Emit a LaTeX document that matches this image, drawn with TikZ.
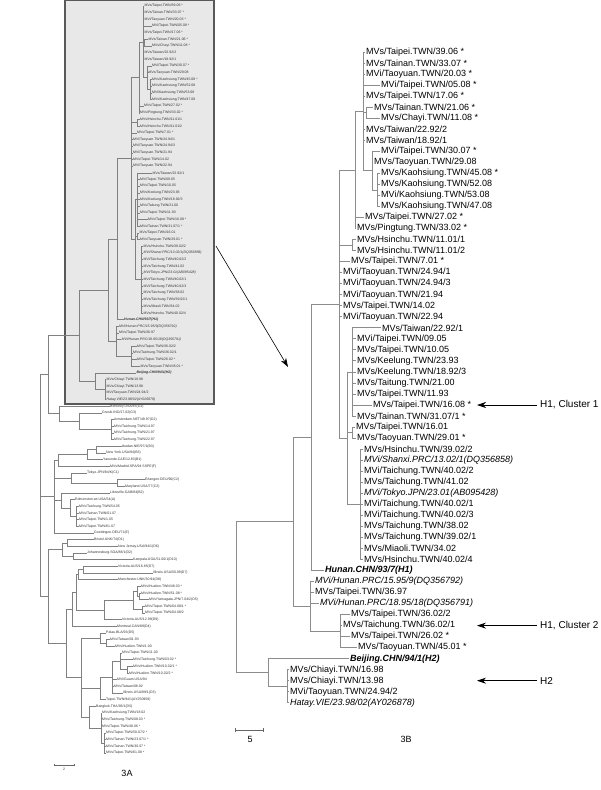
\documentclass[tikz,border=0pt]{standalone}
\usepackage{fontspec}
\setmainfont{Liberation Sans}
\usetikzlibrary{arrows.meta}

\newcommand{\hclade}[1]{%
  \coordinate (#1A3) at (377,189.9);
  \coordinate (#1A2) at (372,170.6);
  \coordinate (#1A1) at (366,112.7);
  \coordinate (#1A) at (363,111.3);
  \coordinate (#1B) at (355,169.9);
  \coordinate (#1H) at (352,245.0);
  \coordinate (#1E) at (352,371.9);
  \coordinate (#1J) at (352,432.6);
  \coordinate (#1L) at (360,504.3);
  \coordinate (#1M) at (347,438.1);
  \coordinate (#1C) at (339,304.0);
  \coordinate (#1G) at (311,437.2);
  \coordinate (#1N) at (340,631.1);
  \coordinate (#1K) at (310,606.3);
  \coordinate (#1F) at (293,521.8);
  \coordinate (#1P) at (287,686.3);
  \coordinate (#1Q) at (268,672.5);
  \coordinate (#1R) at (236,597.2);

  \node[leaf] (#1l1) at (365,52.0) {MVs/Taipei.TWN/39.06 *};
  \node[leaf] (#1l2) at (365,63.0) {MVs/Tainan.TWN/33.07 *};
  \node[leaf] (#1l3) at (365,74.1) {MVi/Taoyuan.TWN/20.03 *};
  \node[leaf] (#1l4) at (380,85.1) {MVi/Taipei.TWN/05.08 *};
  \node[leaf] (#1l5) at (365,96.1) {MVs/Taipei.TWN/17.06 *};
  \node[leaf] (#1l6) at (373,107.2) {MVs/Tainan.TWN/21.06 *};
  \node[leaf] (#1l7) at (380,118.2) {MVs/Chayi.TWN/11.08 *};
  \node[leaf] (#1l8) at (365,129.2) {MVs/Taiwan/22.92/2};
  \node[leaf] (#1l9) at (365,140.2) {MVs/Taiwan/18.92/1};
  \node[leaf] (#1l10) at (380,151.3) {MVi/Taipei.TWN/30.07 *};
  \node[leaf] (#1l11) at (373,162.3) {MVs/Taoyuan.TWN/29.08};
  \node[leaf] (#1l12) at (380,173.3) {MVs/Kaohsiung.TWN/45.08 *};
  \node[leaf] (#1l13) at (380,184.4) {MVs/Kaohsiung.TWN/52.08};
  \node[leaf] (#1l14) at (380,195.4) {MVi/Kaohsiung.TWN/53.08};
  \node[leaf] (#1l15) at (380,206.4) {MVs/Kaohsiung.TWN/47.08};
  \node[leaf] (#1l16) at (364,217.5) {MVs/Taipei.TWN/27.02 *};
  \node[leaf] (#1l17) at (356,228.5) {MVs/Pingtung.TWN/33.02 *};
  \node[leaf] (#1l18) at (356,239.5) {MVs/Hsinchu.TWN/11.01/1};
  \node[leaf] (#1l19) at (356,250.5) {MVs/Hsinchu.TWN/11.01/2};
  \node[leaf] (#1l20) at (350,261.6) {MVs/Taipei.TWN/7.01 *};
  \node[leaf] (#1l21) at (342,272.6) {MVi/Taoyuan.TWN/24.94/1};
  \node[leaf] (#1l22) at (342,283.6) {MVi/Taoyuan.TWN/24.94/3};
  \node[leaf] (#1l23) at (342,294.7) {MVi/Taoyuan.TWN/21.94};
  \node[leaf] (#1l24) at (342,305.7) {MVs/Taipei.TWN/14.02};
  \node[leaf] (#1l25) at (342,316.7) {MVi/Taoyuan.TWN/22.94};
  \node[leaf] (#1l26) at (381,327.8) {MVs/Taiwan/22.92/1};
  \node[leaf] (#1l27) at (356,338.8) {MVi/Taipei.TWN/09.05};
  \node[leaf] (#1l28) at (356,349.8) {MVs/Taipei.TWN/10.05};
  \node[leaf] (#1l29) at (356,360.8) {MVs/Keelung.TWN/23.93};
  \node[leaf] (#1l30) at (356,371.9) {MVs/Keelung.TWN/18.92/3};
  \node[leaf] (#1l31) at (356,382.9) {MVs/Taitung.TWN/21.00};
  \node[leaf] (#1l32) at (356,393.9) {MVs/Taipei.TWN/11.93};
  \node[leaf] (#1l33) at (372,405.0) {MVs/Taipei.TWN/16.08 *};
  \node[leaf] (#1l34) at (356,416.0) {MVs/Tainan.TWN/31.07/1 *};
  \node[leaf] (#1l35) at (355,427.0) {MVs/Taipei.TWN/16.01};
  \node[leaf] (#1l36) at (356,438.1) {MVs/Taoyuan.TWN/29.01 *};
  \node[leaf] (#1l37) at (363,449.1) {MVs/Hsinchu.TWN/39.02/2};
  \node[leaf] (#1l38) at (363,460.1) {\itshape MVi/Shanxi.PRC/13.02/1(DQ356858)};
  \node[leaf] (#1l39) at (363,471.1) {MVi/Taichung.TWN/40.02/2};
  \node[leaf] (#1l40) at (363,482.2) {MVs/Taichung.TWN/41.02};
  \node[leaf] (#1l41) at (363,493.2) {\itshape MVi/Tokyo.JPN/23.01(AB095428)};
  \node[leaf] (#1l42) at (363,504.2) {MVi/Taichung.TWN/40.02/1};
  \node[leaf] (#1l43) at (363,515.3) {MVi/Taichung.TWN/40.02/3};
  \node[leaf] (#1l44) at (363,526.3) {MVs/Taichung.TWN/38.02};
  \node[leaf] (#1l45) at (363,537.3) {MVs/Taichung.TWN/39.02/1};
  \node[leaf] (#1l46) at (363,548.4) {MVs/Miaoli.TWN/34.02};
  \node[leaf] (#1l47) at (363,559.4) {MVs/Hsinchu.TWN/40.02/4};
  \node[leaf] (#1l48) at (324,570.4) {\bfseries\itshape Hunan.CHN/93/7(H1)};
  \node[leaf] (#1l49) at (314,581.4) {\itshape MVi/Hunan.PRC/15.95/9(DQ356792)};
  \node[leaf] (#1l50) at (314,592.5) {MVs/Taipei.TWN/36.97};
  \node[leaf] (#1l51) at (319,603.5) {\itshape MVi/Hunan.PRC/18.95/18(DQ356791)};
  \node[leaf] (#1l52) at (350,614.5) {MVs/Taipei.TWN/36.02/2};
  \node[leaf] (#1l53) at (342,625.6) {MVs/Taichung.TWN/36.02/1};
  \node[leaf] (#1l54) at (350,636.6) {MVs/Taipei.TWN/26.02 *};
  \node[leaf] (#1l55) at (357,647.6) {MVs/Taoyuan.TWN/45.01 *};
  \node[leaf] (#1l56) at (349,658.7) {\bfseries\itshape Beijing.CHN/94/1(H2)};
  \node[leaf] (#1l57) at (289,669.7) {MVs/Chiayi.TWN/16.98};
  \node[leaf] (#1l58) at (289,680.7) {MVs/Chiayi.TWN/13.98};
  \node[leaf] (#1l59) at (289,691.8) {MVi/Taoyuan.TWN/24.94/2};
  \node[leaf] (#1l60) at (289,702.8) {\itshape Hatay.VIE/23.98/02(AY026878)};

  \path[branch] (#1A3) edge (#1l12) edge (#1l13) edge (#1l14) edge (#1l15)
    (#1A2) edge (#1l10) edge (#1l11) edge (#1A3)
    (#1A1) edge (#1l6) edge (#1l7)
    (#1A) edge (#1l1) edge (#1l2) edge (#1l3) edge (#1l4) edge (#1l5)
          edge (#1A1) edge (#1l8) edge (#1l9) edge (#1A2)
    (#1B) edge (#1A) edge (#1l16) edge (#1l17)
    (#1H) edge (#1l18) edge (#1l19)
    (#1E) edge (#1l26) edge (#1l27) edge (#1l28) edge (#1l29) edge (#1l30)
          edge (#1l31) edge (#1l32) edge (#1l33) edge (#1l34)
    (#1J) edge (#1l35) edge (#1l36)
    (#1L) edge (#1l37) edge (#1l38) edge (#1l39) edge (#1l40) edge (#1l41)
          edge (#1l42) edge (#1l43) edge (#1l44) edge (#1l45) edge (#1l46) edge (#1l47)
    (#1M) edge (#1E) edge (#1J) edge (#1L)
    (#1C) edge (#1B) edge (#1H) edge (#1l20) edge (#1l21) edge (#1l22)
          edge (#1l23) edge (#1l24) edge (#1l25) edge (#1M)
    (#1G) edge (#1C) edge (#1l48)
    (#1N) edge (#1l52) edge (#1l53) edge (#1l54) edge (#1l55)
    (#1K) edge (#1l49) edge (#1l50) edge (#1l51) edge (#1N)
    (#1F) edge (#1G) edge (#1K)
    (#1P) edge (#1l57) edge (#1l58) edge (#1l59) edge (#1l60)
    (#1Q) edge (#1l56) edge (#1P)
    (#1R) edge (#1F) edge (#1Q);
}

\begin{document}
\begin{tikzpicture}[x=1pt,y=-1pt,>={Stealth[length=9pt,width=6pt]},
    hv/.style={to path={|- (\tikztotarget)}},
    leafa/.style={anchor=west,inner sep=.5pt,text=black!80,font=\fontsize{3.5}{4}\selectfont},
    leafb/.style={anchor=west,inner sep=1pt,font=\fontsize{9}{10}\selectfont},
    brancha/.style={every edge/.style={draw=black!50,line width=.45pt,hv}},
    branchb/.style={every edge/.style={draw=black!45,line width=.7pt,hv}},
    tag/.style={anchor=west,inner sep=3pt,font=\fontsize{10}{12}\selectfont},
    figlabel/.style={font=\fontsize{9}{10}\selectfont},
    pointer/.style={->,line width=.7pt}]

  \useasboundingbox (0,0) rectangle (600,790);

  \draw[draw=black!65,line width=1.2pt,fill=black!9] (65,0.8) rectangle (214,404);

  \begin{scope}[shift={(-38.5,-25.45)},xscale=0.5,yscale=0.6047,
      leaf/.style=leafa,branch/.style=brancha]
    \hclade{a}
  \end{scope}

  \coordinate (aX4) at (111,429.6);
  \coordinate (aX3) at (79,421.2);
  \coordinate (aX2) at (59,413.7);
  \coordinate (aX1) at (48,374.7);
  \coordinate (aB3) at (96,449.6);
  \coordinate (aBb) at (87,454.6);
  \coordinate (aBf) at (58,460.4);
  \coordinate (aC2) at (117,482.9);
  \coordinate (aCc) at (71,477.9);
  \coordinate (aGa1) at (76,516.2);
  \coordinate (aGa) at (70,507.9);
  \coordinate (aZ2) at (61,500.4);
  \coordinate (aZ1) at (54,496.7);
  \coordinate (aDbn) at (67,542.9);
  \coordinate (aDjk) at (73,556.2);
  \coordinate (aD16) at (62,549.6);
  \coordinate (aDv) at (83,569.6);
  \coordinate (aDm) at (78,574.6);
  \coordinate (aHy) at (139,596.2);
  \coordinate (aHh) at (137,591.2);
  \coordinate (aDt) at (142,609.6);
  \coordinate (aDh) at (133,600.4);
  \coordinate (aD9) at (104,610.0);
  \coordinate (aDmn) at (76,592.3);
  \coordinate (aDq) at (72,609.3);
  \coordinate (aDpt) at (106,642.9);
  \coordinate (aDp) at (100,637.9);
  \coordinate (aDhh) at (127,669.6);
  \coordinate (aDtc) at (120,661.3);
  \coordinate (aDtw) at (112,677.1);
  \coordinate (aDtp) at (100,688.4);
  \coordinate (aDtt) at (104,742.9);
  \coordinate (aDkk) at (101,727.9);
  \coordinate (aDbk) at (89,717.1);
  \coordinate (aD5) at (81,677.5);
  \coordinate (aDr) at (66,643.4);
  \coordinate (aDn) at (48,596.5);
  \coordinate (aRoot) at (40,485.6);

  \node[leafa] (a61) at (109.5,406.2) {Berkeley.USA/83(G1)};
  \node[leafa] (a62) at (101.5,412.9) {Gresik.INO/17.02(G3)};
  \node[leafa] (a63) at (113.5,419.5) {Amsterdam.NET/49.97(G2)};
  \node[leafa] (a64) at (113.5,426.2) {MVs/Taichung.TWN/14.97};
  \node[leafa] (a65) at (113.5,432.9) {MVs/Taichung.TWN/21.97};
  \node[leafa] (a66) at (113.5,439.6) {MVs/Taichung.TWN/22.97};
  \node[leafa] (a67) at (121.5,446.2) {Ibadan.NIE/97/1(B3)};
  \node[leafa] (a68) at (105.5,452.9) {New York.USA/94(B3)};
  \node[leafa] (a69) at (102.5,459.6) {Yaounde.CAE/12.83(B1)};
  \node[leafa] (a70) at (109.5,466.2) {MVs/Madrid.SPA/94 SSPE(F)};
  \node[leafa] (a71) at (86.5,472.9) {Tokyo.JPN/84/K(C1)};
  \node[leafa] (a72) at (144.5,479.6) {Erlangen.DEU/90(C2)};
  \node[leafa] (a73) at (124.5,486.2) {Maryland.USA/77(C2)};
  \node[leafa] (a74) at (109.5,492.9) {Libreville.GAB/84(B2)};
  \node[leafa] (a75) at (74.5,499.6) {Edmonston-wt.USA/54(A)};
  \node[leafa] (a76) at (78.5,506.2) {MVs/Taichung.TWN/54.05};
  \node[leafa] (a77) at (78.5,512.9) {MVs/Tainan.TWN/01.07};
  \node[leafa] (a78) at (78.5,519.6) {MVs/Taipei.TWN/1.05};
  \node[leafa] (a79) at (78.5,526.2) {MVs/Taipei.TWN/61.07};
  \node[leafa] (a80) at (93.5,532.9) {Goettingen.DEU/71(E)};
  \node[leafa] (a81) at (93.5,539.6) {Bristol.UNK/74(D1)};
  \node[leafa] (a82) at (117.5,546.2) {New Jersey.USA/94/1(D6)};
  \node[leafa] (a83) at (86.5,552.9) {Johannesburg.SOA/88/1(D2)};
  \node[leafa] (a84) at (132.5,559.6) {Kampala.UGA/51.00/1(D10)};
  \node[leafa] (a85) at (117.5,566.2) {Victoria.AUS/16.85(D7)};
  \node[leafa] (a86) at (152.5,572.9) {Illinois.USA/50.99(D7)};
  \node[leafa] (a87) at (117.5,579.6) {Manchester.UNK/30.94(D8)};
  \node[leafa] (a88) at (140.5,586.2) {MVs/Hualien.TWN/48.03 *};
  \node[leafa] (a89) at (140.5,592.9) {MVs/Hualien.TWN/51.08 *};
  \node[leafa] (a90) at (148.5,599.6) {MVs/Yamagata.JPN/7.04/2(D5)};
  \node[leafa] (a91) at (144.5,606.2) {MVs/Taipei.TWN/04.08/1 *};
  \node[leafa] (a92) at (144.5,612.9) {MVs/Taipei.TWN/04.08/2};
  \node[leafa] (a93) at (121.5,619.6) {Victoria.AUS/12.99(D9)};
  \node[leafa] (a94) at (116.5,626.2) {Montreal.CAN/89(D4)};
  \node[leafa] (a95) at (105.5,632.9) {Palau.BLA/93(D5)};
  \node[leafa] (a96) at (109.5,639.6) {MVs/Taiwan/01.93};
  \node[leafa] (a97) at (114.5,646.2) {MVs/Hualien.TWN/1.00};
  \node[leafa] (a98) at (121.5,652.9) {MVs/Taipei.TWN/11.00};
  \node[leafa] (a99) at (132.5,659.6) {MVs/Taichung.TWN/03.02 *};
  \node[leafa] (a100) at (132.5,666.2) {MVs/Hualien.TWN/10.02/1 *};
  \node[leafa] (a101) at (128.5,672.9) {MVs/Hualien.TWN/10.02/2 *};
  \node[leafa] (a102) at (116.5,679.6) {MVi/Guam.USA/94};
  \node[leafa] (a103) at (113.5,686.2) {MVs/Taiwan/08.92};
  \node[leafa] (a104) at (122.5,692.9) {Illinois.USA/89/1(D3)};
  \node[leafa] (a105) at (105.5,699.6) {Taipei.TWN/94/1(AY250958)};
  \node[leafa] (a106) at (95.5,706.2) {Bangkok.THA/93/1(D5)};
  \node[leafa] (a107) at (101.5,712.9) {MVs/Kaohsiung.TWN/18.02};
  \node[leafa] (a108) at (101.5,719.6) {MVs/Taichung.TWN/08.03 *};
  \node[leafa] (a109) at (101.5,726.2) {MVs/Taipei.TWN/48.06 *};
  \node[leafa] (a110) at (105.5,732.9) {MVs/Taipei.TWN/50.07/2 *};
  \node[leafa] (a111) at (105.5,739.6) {MVs/Tainan.TWN/23.07/1 *};
  \node[leafa] (a112) at (105.5,746.2) {MVs/Tainan.TWN/30.07 *};
  \node[leafa] (a113) at (105.5,752.9) {MVs/Taipei.TWN/61.08 *};

  \path[brancha] (aRoot) edge (aX1) edge (aZ1) edge (aDn)
    (aX1) edge (aR) edge (aX2)
    (aX2) edge (a61) edge (aX3)
    (aX3) edge (a62) edge (aX4)
    (aX4) edge (a63) edge (a64) edge (a65) edge (a66)
    (aZ1) edge (aBf) edge (aCc) edge (aZ2) edge (a80)
    (aBf) edge (aBb) edge (a70)
    (aBb) edge (aB3) edge (a69)
    (aB3) edge (a67) edge (a68)
    (aCc) edge (a71) edge (aC2)
    (aC2) edge (a72) edge (a73)
    (aZ2) edge (a74) edge (aGa)
    (aGa) edge (a75) edge (aGa1)
    (aGa1) edge (a76) edge (a77) edge (a78) edge (a79)
    (aDn) edge (aD16) edge (aDr)
    (aD16) edge (aDbn) edge (aDjk)
    (aDbn) edge (a81) edge (a82)
    (aDjk) edge (a83) edge (a84)
    (aDr) edge (aDq) edge (aD5)
    (aDq) edge (aDmn) edge (a94)
    (aDmn) edge (aDm) edge (aD9)
    (aDm) edge (aDv) edge (a87)
    (aDv) edge (a85) edge (a86)
    (aD9) edge (aDh) edge (a93)
    (aDh) edge (aHh) edge (aDt)
    (aHh) edge (a88) edge (aHy)
    (aHy) edge (a89) edge (a90)
    (aDt) edge (a91) edge (a92)
    (aD5) edge (aDp) edge (aDtp) edge (aDbk)
    (aDp) edge (a95) edge (aDpt)
    (aDpt) edge (a96) edge (a97)
    (aDtp) edge (aDtw) edge (a105)
    (aDtw) edge (aDtc) edge (a102) edge (a103) edge (a104)
    (aDtc) edge (a98) edge (a99) edge (aDhh)
    (aDhh) edge (a100) edge (a101)
    (aDbk) edge (a106) edge (aDkk)
    (aDkk) edge (a107) edge (a108) edge (a109) edge (aDtt)
    (aDtt) edge (a110) edge (a111) edge (a112) edge (a113);

  \coordinate (asl) at (54,765);
  \coordinate (asr) at (74,765);
  \draw[{Bar[width=2.5pt]}-{Bar[width=2.5pt]},line width=.45pt,black!60] (asl) -- (asr);
  \node[leafa,anchor=center] (asn) at (64,769.5) {2};
  \node[figlabel] (afig) at (127,773) {3A};

  \begin{scope}[leaf/.style=leafb,branch/.style=branchb]
    \hclade{b}
  \end{scope}

  \coordinate (bsl) at (235,730);
  \coordinate (bsr) at (264,730);
  \draw[{Bar[width=4pt]}-{Bar[width=4pt]},line width=.7pt,black!60] (bsl) -- (bsr);
  \node[figlabel] (bsn) at (250,739) {5};
  \node[figlabel] (bfig) at (406,739) {3B};

  \coordinate (zoomfrom) at (216,246);
  \coordinate (zoomto) at (288,367);
  \draw[pointer,line width=.6pt] (zoomfrom) -- (zoomto);

  \node[tag] (cl1) at (537,405.0) {H1, Cluster 1};
  \coordinate (cl1tip) at (477,405.0);
  \draw[pointer] (cl1) -- (cl1tip);

  \node[tag] (cl2) at (537,625.6) {H1, Cluster 2};
  \coordinate (cl2tip) at (477,625.6);
  \draw[pointer] (cl2) -- (cl2tip);

  \node[tag] (gh2) at (537,680.7) {H2};
  \coordinate (gh2tip) at (477,680.7);
  \draw[pointer] (gh2) -- (gh2tip);

\end{tikzpicture}
\end{document}
